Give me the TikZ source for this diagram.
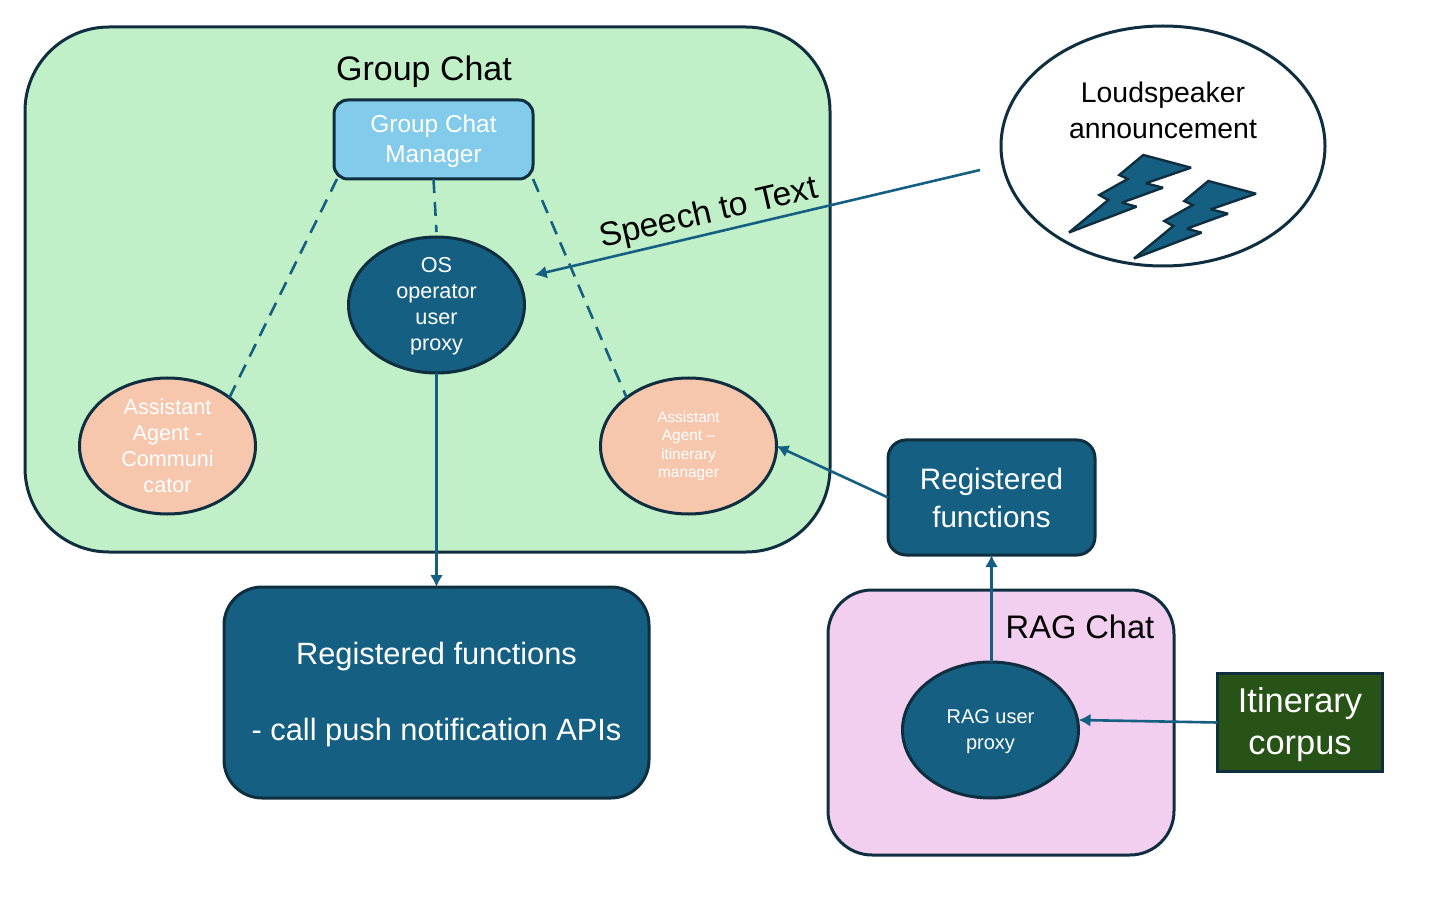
\documentclass[tikz,border=0pt]{standalone}
\usepackage{fontspec}
\setmainfont{Liberation Sans}
\usetikzlibrary{shapes.geometric,arrows.meta}
\definecolor{cgreen}{HTML}{C1F0C8}
\definecolor{cblue}{HTML}{156082}
\definecolor{cdark}{HTML}{0F2F40}
\definecolor{clight}{HTML}{83CBEB}
\definecolor{cpeach}{HTML}{F6C6AD}
\definecolor{cpink}{HTML}{F2CEEF}
\definecolor{ccorpus}{HTML}{275317}
\newcommand{\tfont}[2]{\fontsize{#1}{#2}\selectfont}
\newcommand{\dnl}[2]{\raisebox{0pt}[\dimexpr\height+#1\relax]{#2}}
\tikzset{
  x=0.5pt,y=-0.5pt,
  outl/.style={draw=cdark,line width=1.5pt,inner sep=0pt,outer sep=0pt,align=center},
  rbox/.style={outl,rectangle,rounded corners=#1},
  oval/.style={outl,ellipse,inner sep=-6pt,minimum width=88pt,minimum height=68pt},
  bluefill/.style={fill=cblue,text=white},
  link/.style={draw=cblue,line width=1.3pt},
  dlink/.style={link,dash pattern=on 7pt off 4.5pt},
  alink/.style={link,-{Latex[length=6pt,width=6.5pt]}},
  bolt/.style={draw=cdark,fill=cblue,line width=1.2pt,line join=miter,miter limit=3},
}
\begin{document}
\begin{tikzpicture}
\useasboundingbox (0,0) rectangle (1431,909);
% containers
\node[rbox=42pt,fill=cgreen,minimum width=402.5pt,minimum height=262.5pt] (group) at (427.5,289.5) {};
\node[rbox=22pt,fill=cpink,minimum width=173pt,minimum height=132.5pt] (rag) at (1001,722.5) {};
\node[font=\tfont{17}{20}] (grouptitle) at (424,72) {Group Chat};
\node[font=\tfont{16.3}{20}] (ragtitle) at (1080,627) {RAG Chat};
% nodes
\node[rbox=7pt,fill=clight,text=white,minimum width=99.5pt,minimum height=39.5pt,font=\tfont{12.2}{15}] (mgr) at (433.5,139.5) {\dnl{2pt}{Group Chat}\\Manager};
\node[oval,bluefill,font=\tfont{10.8}{13}] (os) at (436.5,305) {\dnl{1pt}{OS}\\operator\\user\\proxy};
\node[oval,fill=cpeach,text=white,font=\tfont{10.8}{13}] (comm) at (167.5,446) {Assistant\\Agent -\\Communi\\cator};
\node[oval,fill=cpeach,text=white,font=\tfont{7.7}{9.2}] (itin) at (688.5,446) {Assistant\\Agent --\\itinerary\\manager};
\node[rbox=19pt,bluefill,minimum width=212.5pt,minimum height=105.5pt,font=\tfont{15.4}{19}] (regbig) at (436.5,692.5) {\dnl{2pt}{Registered functions}\\[19pt]- call push notification APIs};
\node[rbox=9pt,bluefill,minimum width=103.5pt,minimum height=57.5pt,font=\tfont{14.8}{19}] (regsmall) at (991.5,497.5) {Registered\\functions};
\node[oval,bluefill,font=\tfont{10}{13}] (ragproxy) at (990.5,730) {\dnl{2pt}{RAG user}\\proxy};
\node[rectangle,draw=cdark,line width=1.5pt,fill=ccorpus,text=white,align=center,inner sep=0pt,outer sep=0pt,minimum width=82.5pt,minimum height=49pt,font=\tfont{17.2}{21}] (corpus) at (1300,722.5) {\dnl{2pt}{Itinerary}\\corpus};
\node[outl,ellipse,fill=white,minimum width=162pt,minimum height=120pt] (loud) at (1163,146) {};
\node[align=center,font=\tfont{14.2}{18}] (loudtext) at (1163,110) {Loudspeaker\\announcement};
% lightning
\foreach \dx/\dy in {0/0,65/26}{
\draw[bolt,shift={(\dx,\dy)}] (1143.3,155) -- (1191,167.7) -- (1145.7,183.3) -- (1163,187.7) -- (1121.7,202.7) -- (1136.5,206.7) -- (1069,232.5) -- (1108.3,200) -- (1099.3,195) -- (1127.7,179) -- (1119.3,175) -- cycle;
}
% connectors
\coordinate (speechstart) at (980,170);
\coordinate (ostip) at ([xshift=8.2pt,yshift=2.5pt]os.17);
\draw[dlink] (mgr.south west) ++(1.5pt,0) -- (comm.38);
\draw[dlink] (mgr.south) -- ([yshift=2.5pt]os.north);
\draw[dlink] (mgr.south east) -- (itin.142);
\draw[alink] (speechstart) -- (ostip);
\draw[alink] (os.south) -- (regbig.north);
\draw[alink] (regsmall.west) -- (itin.east);
\draw[alink] (ragproxy.north -| regsmall.south) -- (regsmall.south);
\draw[alink] (corpus.west) -- ([yshift=5pt]ragproxy.east);
\node[rotate=13,font=\tfont{16.8}{20}] (speech) at (709,214) {Speech to Text};
\end{tikzpicture}
\end{document}
